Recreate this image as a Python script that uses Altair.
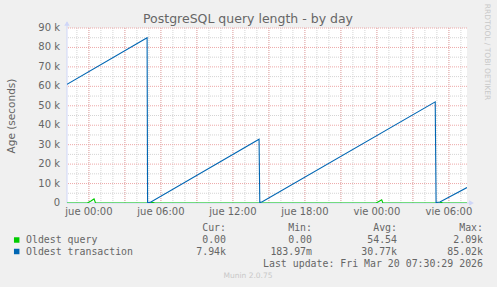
import altair as alt
import pandas as pd

# ---- data (hours relative to Thu 00:00) ----
X_START = -1.825
X_END = 31.508

trans_h = [-1.825, 4.85, 4.89, 5.10, 14.18, 14.24, 14.45, 28.86, 28.93, 29.25, 31.508]
trans_v = [61000, 85020, 200, 300, 32800, 200, 600, 52000, 250, 500, 7940]

query_h = [-1.825, -0.13, 0.17, 0.43, 0.55, 5.10, 5.30, 5.50, 23.93, 24.20, 24.40, 24.50, 29.20, 29.35, 29.50, 31.508]
query_v = [0, 0, 1000, 2090, 0, 0, 350, 0, 0, 900, 1600, 0, 0, 300, 0, 0]

x_tick_values = [0, 6, 12, 18, 24, 30]
x_tick_labels = ["jue 00:00", "jue 06:00", "jue 12:00", "jue 18:00", "vie 00:00", "vie 06:00"]
y_tick_values = [0, 10000, 20000, 30000, 40000, 50000, 60000, 70000, 80000, 90000]
y_tick_labels = ["0", "10 k", "20 k", "30 k", "40 k", "50 k", "60 k", "70 k", "80 k", "90 k"]

minor_x = [h for h in range(-1, 32)]
major_x = [h for h in range(0, 32, 3)]
minor_y = [5000, 15000, 25000, 35000, 45000, 55000, 65000, 75000, 85000]
major_y = [10000, 20000, 30000, 40000, 50000, 60000, 70000, 80000, 90000]

series_names = ["Oldest query", "Oldest transaction"]
series_colors = ["#00CC00", "#0066B3"]
col_headers = ["Cur:", "Min:", "Avg:", "Max:"]
query_stats = ["0.00", "0.00", "54.54", "2.09k"]
trans_stats = ["7.94k", "183.97m", "30.77k", "85.02k"]
last_update = "Last update: Fri Mar 20 07:30:29 2026"
title_text = "PostgreSQL query length - by day"
y_title = "Age (seconds)"
side_text = "RRDTOOL / TOBI OETIKER"
footer_text = "Munin 2.0.75"

# ---- layout ----
L, T = 67, 28
W, H = 400, 175
FONT = "DejaVu Sans"
MONO = "DejaVu Sans Mono"
FG = "#666666"
AXISC = "#CFD6F8"
MINORC = "#D4D4D4"
MAJORC = "#EDA8A8"

xs = alt.Scale(domain=[X_START, X_END], nice=False, zero=False)
ys = alt.Scale(domain=[0, 90000], nice=False)

lines_df = pd.DataFrame({
    "h": query_h + trans_h,
    "v": query_v + trans_v,
    "s": [series_names[0]] * len(query_h) + [series_names[1]] * len(trans_h),
    "o": list(range(len(query_h))) + list(range(len(trans_h))),
})


def vgrid(vals, color):
    return alt.Chart(pd.DataFrame({"h": vals})).mark_rule(color=color, strokeWidth=1, strokeDash=[1, 1]).encode(
        x=alt.X("h:Q", scale=xs, axis=None))


def hgrid(vals, color):
    return alt.Chart(pd.DataFrame({"v": vals})).mark_rule(color=color, strokeWidth=1, strokeDash=[1, 1]).encode(
        y=alt.Y("v:Q", scale=ys, axis=None))


grid = [vgrid(minor_x, MINORC), hgrid(minor_y, MINORC),
        vgrid(major_x, MAJORC), hgrid(major_y, MAJORC)]

xlab = alt.Chart(pd.DataFrame({"h": x_tick_values, "t": x_tick_labels})).mark_text(
    font=FONT, fontSize=10, color=FG, baseline="middle", align="center").encode(
    x=alt.X("h:Q", scale=xs, axis=None), y=alt.value(H + 9), text="t:N")
ylab = alt.Chart(pd.DataFrame({"v": y_tick_values, "t": y_tick_labels})).mark_text(
    font=FONT, fontSize=10, color=FG, baseline="middle", align="right").encode(
    y=alt.Y("v:Q", scale=ys, axis=None), x=alt.value(-7), text="t:N")

one = pd.DataFrame({"a": [0]})
axis_lines = [
    alt.Chart(one).mark_rule(color=AXISC, strokeWidth=1).encode(
        x=alt.value(0), y=alt.value(-6), y2=alt.value(H)),
    alt.Chart(one).mark_rule(color=AXISC, strokeWidth=1).encode(
        x=alt.value(0), x2=alt.value(W + 5), y=alt.value(H)),
    alt.Chart(one).mark_point(shape="triangle-up", filled=True, color=AXISC, size=30, opacity=1).encode(
        x=alt.value(0), y=alt.value(-4.5)),
    alt.Chart(one).mark_point(shape="triangle-right", filled=True, color=AXISC, size=30, opacity=1).encode(
        x=alt.value(W + 4.5), y=alt.value(H)),
]

lines = alt.Chart(lines_df).mark_line(strokeWidth=1.1, clip=True).encode(
    x=alt.X("h:Q", scale=xs, axis=None),
    y=alt.Y("v:Q", scale=ys, axis=None),
    color=alt.Color("s:N", scale=alt.Scale(domain=series_names, range=series_colors), legend=None),
    order="o:Q",
)


def txt(s, x, y, size=10, color=FG, align="left", font=FONT, angle=0, baseline="middle"):
    kw = dict(fontSize=size, color=color, align=align, baseline=baseline, font=font)
    if angle:
        kw["angle"] = angle
    return alt.Chart(pd.DataFrame({"t": [s]})).mark_text(**kw).encode(
        x=alt.value(x - L), y=alt.value(y - T), text="t:N")


NB = "\u00a0"
texts = [
    txt(title_text, 248, 19, size=12.5, align="center"),
    txt(y_title, 12, 116, size=10.5, align="center", angle=270),
    txt(side_text, 487, 52, size=7.5, color="#C8C8C8", align="center", angle=90),
    txt(footer_text, 248, 276, size=7.5, color="#C8C8C8", align="center"),
]
col_right = [226, 312, 397, 483]
for hdr, r in zip(col_headers, col_right):
    texts.append(txt(hdr + NB + NB, r, 228, size=9.9, align="right", font=MONO))
row_y = [240, 251.5]
for name, color, stats, yy in zip(series_names, series_colors, [query_stats, trans_stats], row_y):
    texts.append(alt.Chart(one).mark_square(color=color, size=30, opacity=1, filled=True).encode(
        x=alt.value(16.7 - L), y=alt.value(yy - T)))
    texts.append(txt(name, 26, yy, size=9.9, font=MONO))
    for s, r in zip(stats, col_right):
        val = s if s[-1].isalpha() else s + NB
        texts.append(txt(val, r, yy, size=9.9, align="right", font=MONO))
texts.append(txt(last_update, 483, 263.5, size=9.9, align="right", font=MONO))

chart = alt.layer(*grid, *axis_lines, lines, xlab, ylab, *texts).properties(
    width=W, height=H,
    autosize=alt.AutoSizeParams(type="none"),
    padding={"left": L, "top": T, "right": 497 - L - W, "bottom": 287 - T - H},
    background="#F0F0F0",
).configure_view(stroke=None, fill="#FFFFFF")

chart.save("out.html", embed_options={"renderer": "svg", "actions": False})
